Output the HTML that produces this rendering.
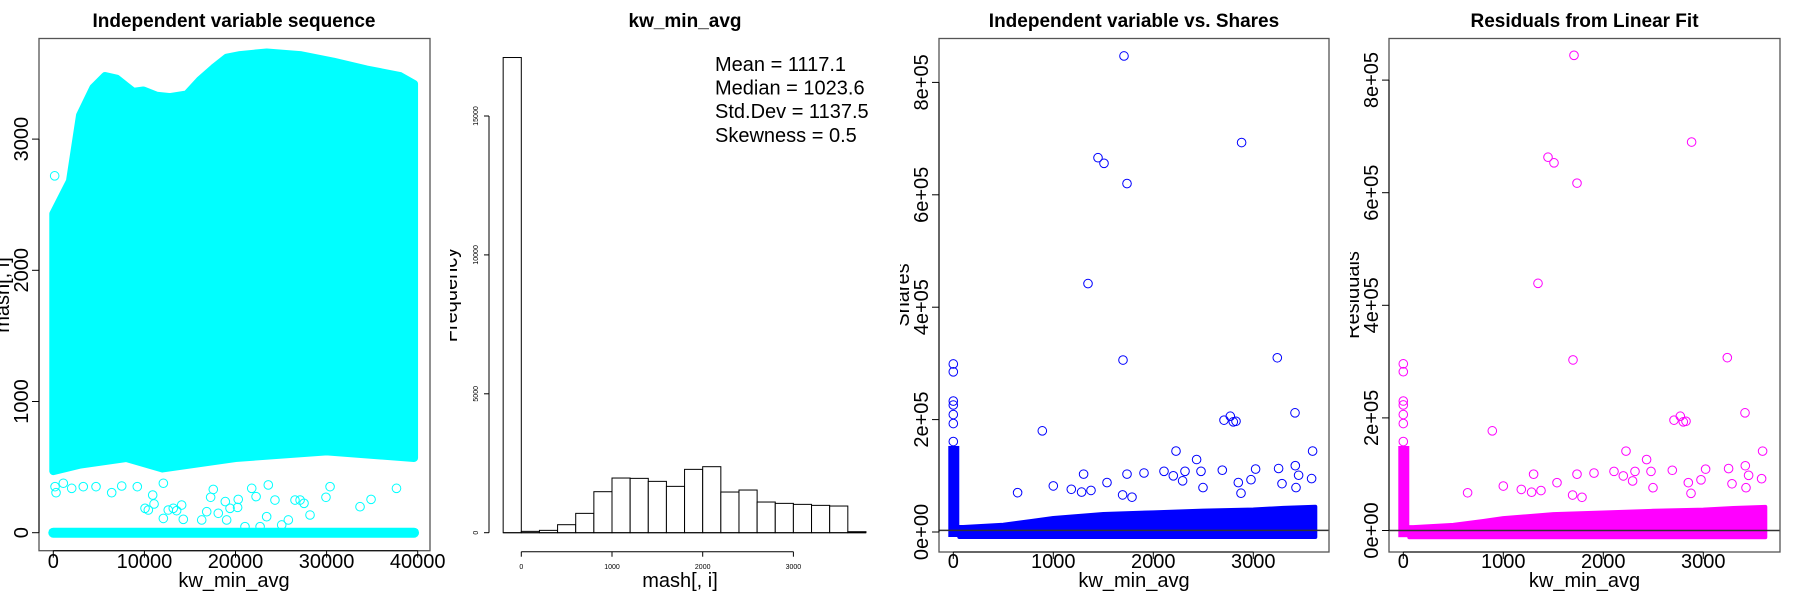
<!DOCTYPE html>
<html><head><meta charset="utf-8"><style>
html,body{margin:0;padding:0;background:#fff;}
svg{display:block;font-family:"Liberation Sans",Arial,sans-serif;}
</style></head><body>
<svg id="chart" width="1800" height="600" viewBox="0 0 1800 600" xmlns="http://www.w3.org/2000/svg">
<defs>
<clipPath id="c1"><rect x="0" y="0" width="450" height="600"/></clipPath>
<clipPath id="c2"><rect x="450" y="0" width="450" height="600"/></clipPath>
<clipPath id="c3"><rect x="900" y="0" width="450" height="600"/></clipPath>
<clipPath id="c4"><rect x="1350" y="0" width="450" height="600"/></clipPath>
</defs>
<g id="p1" clip-path="url(#c1)"></g>
<g id="p2" clip-path="url(#c2)"></g>
<g id="p3" clip-path="url(#c3)"></g>
<g id="p4" clip-path="url(#c4)"></g>
</svg>
<script>
// ---------- Panel 1 data (index vs value) ----------
const seqIdxUpper = [0,1830,2930,4390,5680,6960,8790,9890,11350,12820,14650,16110,17580,19040,20500,23430,27090,30750,34410,38070,39600];
const seqValUpper = [2400,2650,3150,3360,3450,3430,3330,3340,3300,3290,3310,3420,3510,3590,3610,3630,3610,3560,3500,3450,3390];
const seqIdxLower = [0,3000,8000,12000,20000,30000,39600];
const seqValLower = [500,550,600,520,600,650,600];
const seqSparseIdx = [300,190,1100,2020,3290,4690,6410,7510,9220,10070,10430,10910,11060,12080,12080,12620,13170,13540,14090,14270,16290,16840,17560,17270,18110,18880,19030,19400,20300,20230,21040,21780,22260,22700,23420,23600,24330,25070,25800,26530,27090,27520,28180,29930,30380,33670,34880,37670,150,2700];
const seqSparseVal = [305,351,377,338,351,351,305,356,351,186,173,287,219,377,109,173,186,168,211,102,97,160,330,270,148,237,97,186,254,193,46,338,275,46,122,364,249,59,97,249,249,224,135,270,351,198,254,338,2720,2600];
const seqZeroIdx = [0,39600];
const seqTicksY = [0,1000,2000,3000];
const seqTicksX = [0,10000,20000,30000,40000];

// ---------- Panel 2 data (histogram) ----------
const histBreaks = [-200,0,200,400,600,800,1000,1200,1400,1600,1800,2000,2200,2400,2600,2800,3000,3200,3400,3600,3800];
const histCounts = [17105,48,84,288,696,1476,1968,1956,1848,1668,2280,2376,1464,1536,1104,1056,1020,984,960,36];
const histTicksY = [0,5000,10000,15000];
const histTicksX = [0,1000,2000,3000];
const statLines = ["Mean = 1117.1","Median = 1023.6","Std.Dev = 1137.5","Skewness = 0.5"];

// ---------- Panel 3 data (kw_min_avg vs shares) ----------
const outX = [1707,2883,1447,1507,1737,1347,1697,3240,3417,890,2707,2770,2800,2827,2227,3593,2433,3253,3023,2690,2107,2317,2477,1737,1907,1303,2200,3420,3453,3583,2293,2977,1537,1000,1180,1283,1377,643,1693,1787,2497,3287,3427,2850,2877,0,0,0,0,0,0,0,0];
const outY = [847000,693000,666000,656000,620000,442000,306000,310000,212000,180000,199000,206000,196000,197000,144000,144000,129000,113000,112000,110000,108000,108000,108000,103000,105000,103000,100000,118000,101000,95000,91000,93000,88000,82000,76000,71000,74000,70000,66000,62000,79000,86000,79000,88000,69000,299000,285000,233000,226000,209000,193000,161000,140000];
const bandX = [60,100,300,500,800,1000,1500,2000,2500,3000,3300,3620];
const bandTop = [9000,9000,11000,13000,20000,25000,32000,35000,38000,40000,43000,45000];
const columnTop = [146000];
const sharesTicksY = [0,200000,400000,600000,800000];
const sharesTickLabels = ["0e+00","2e+05","4e+05","6e+05","8e+05"];
const sharesTicksX = [0,1000,2000,3000];
const fitted = [3000];

const NS = "http://www.w3.org/2000/svg";
function mk(parent, tag, attrs, text){
  const e = document.createElementNS(NS, tag);
  for (const k in attrs) e.setAttribute(k, attrs[k]);
  if (text !== undefined) e.textContent = text;
  parent.appendChild(e);
  return e;
}
const p1 = document.getElementById('p1'), p2 = document.getElementById('p2'),
      p3 = document.getElementById('p3'), p4 = document.getElementById('p4');

const x1 = v => 53.3 + v*0.00911, y1 = v => 532.7 - v*0.1312;
const x2 = v => 521.3 + v*0.0907, y2 = v => 532.7 - v*0.02778;
const x3 = v => 953.3 + v*0.1, y3 = v => 532 - v*0.000562;
const x4 = v => 1403.3 + v*0.1, y4 = v => 530.5 - v*0.000563;

function title(g, cx, txt){
  const t = mk(g,'text',{x:cx,y:27,'text-anchor':'middle','font-size':19,'font-weight':'bold',fill:'#000'},txt);
  
  
}
function ylab(g, x, txt){
  const t = mk(g,'text',{x:0,y:0,transform:`translate(${x},295) rotate(-90)`,'text-anchor':'middle','font-size':20,fill:'#000'},txt);
  
  
}
function xlab(g, cx, txt){
  const t = mk(g,'text',{x:cx,y:587,'text-anchor':'middle','font-size':20,fill:'#000'},txt);
  
  
}
function box(g, x0, x1_, y0, y1_){
  const r = mk(g,'rect',{x:x0,y:y0,width:x1_-x0,height:y1_-y0,fill:'none',stroke:'#555','stroke-width':1.3});
  
  
}
function yticks(g, vals, labels, sy, left, labX){
  vals.forEach((v,i)=>{
    const l = mk(g,'line',{x1:left,x2:left-7,y1:sy(v),y2:sy(v),stroke:'#000','stroke-width':1});
    
    
    const t = mk(g,'text',{x:0,y:0,transform:`translate(${labX},${sy(v)}) rotate(-90)`,'text-anchor':'middle','font-size':20,fill:'#000'},labels[i]);
    
    
  });
  const a = mk(g,'line',{x1:left,x2:left,y1:sy(vals[0]),y2:sy(vals[vals.length-1]),stroke:'#000','stroke-width':1});
  
  
}
function xticks(g, vals, sx, bottom){
  vals.forEach(v=>{
    const l = mk(g,'line',{x1:sx(v),x2:sx(v),y1:bottom,y2:bottom+7,stroke:'#000','stroke-width':1});
    
    
    const t = mk(g,'text',{x:sx(v),y:568,'text-anchor':'middle','font-size':20,fill:'#000'},String(v));
    
    
  });
  const a = mk(g,'line',{x1:sx(vals[0]),x2:sx(vals[vals.length-1]),y1:bottom,y2:bottom,stroke:'#000','stroke-width':1});
  
  
}
function circ(g, cx, cy, col, name){
  const c = mk(g,'circle',{cx:cx,cy:cy,r:4.3,fill:'none',stroke:col,'stroke-width':1});
  
  
}

// ===== Panel 1 =====
title(p1, 234, 'Independent variable sequence');
{
  let pts = [];
  seqIdxUpper.forEach((v,i)=>pts.push(x1(v)+','+(y1(seqValUpper[i])-4)));
  for (let i=seqIdxLower.length-1;i>=0;i--) pts.push(x1(seqIdxLower[i])+','+(y1(seqValLower[i])+4));
  const poly = mk(p1,'polygon',{points:pts.join(' '),fill:'#00FFFF',stroke:'#00FFFF','stroke-width':8,'stroke-linejoin':'round'});
  
  
  seqSparseIdx.forEach((v,i)=>circ(p1, x1(v), y1(seqSparseVal[i]), '#00FFFF', 'sequence-point'));
  const z = mk(p1,'line',{x1:x1(seqZeroIdx[0]),x2:x1(seqZeroIdx[1]),y1:y1(0),y2:y1(0),stroke:'#00FFFF','stroke-width':10,'stroke-linecap':'round'});
  
  
}
box(p1, 39, 430, 38.5, 550.7);
yticks(p1, seqTicksY, seqTicksY.map(String), y1, 39, 28);
xticks(p1, seqTicksX, x1, 550.7);
xlab(p1, 234, 'kw_min_avg');
ylab(p1, 9, 'mash[, i]');

// ===== Panel 2 =====
title(p2, 685, 'kw_min_avg');
histCounts.forEach((c,i)=>{
  const xa = x2(histBreaks[i]), xb = x2(histBreaks[i+1]);
  const r = mk(p2,'rect',{x:xa,y:y2(c),width:xb-xa,height:y2(0)-y2(c),fill:'#fff',stroke:'#000','stroke-width':1});
  
  
});
{
  const L = 489;
  histTicksY.forEach(v=>{
    const l = mk(p2,'line',{x1:L,x2:L-5,y1:y2(v),y2:y2(v),stroke:'#000','stroke-width':1});
    
    
    const t = mk(p2,'text',{x:0,y:0,transform:`translate(478,${y2(v)}) rotate(-90)`,'text-anchor':'middle','font-size':7,fill:'#000'},String(v));
    
    
  });
  const a = mk(p2,'line',{x1:L,x2:L,y1:y2(0),y2:y2(15000),stroke:'#000','stroke-width':1});
  
  
  const B = 551.7;
  histTicksX.forEach(v=>{
    const l = mk(p2,'line',{x1:x2(v),x2:x2(v),y1:B,y2:B+5,stroke:'#000','stroke-width':1});
    
    
    const t = mk(p2,'text',{x:x2(v),y:569,'text-anchor':'middle','font-size':7,fill:'#000'},String(v));
    
    
  });
  const b = mk(p2,'line',{x1:x2(0),x2:x2(3000),y1:B,y2:B,stroke:'#000','stroke-width':1});
  
  
  const base = mk(p2,'line',{x1:x2(-200),x2:x2(3800),y1:y2(0),y2:y2(0),stroke:'#000','stroke-width':1});
  
  
  statLines.forEach((s,i)=>{
    const t = mk(p2,'text',{x:715,y:71+i*23.6,'font-size':20,fill:'#000'},s);
    
    
  });
}
xlab(p2, 680, 'mash[, i]');
ylab(p2, 457, 'Frequency');

// ===== Panels 3 & 4 =====
function scatterPanel(g, sx, sy, col, offset, left, right, ttl, yl, ylx, labX, lineVal){
  title(g, (left+right)/2, ttl);
  // dense band
  let pts = [];
  bandX.forEach((v,i)=>pts.push(sx(v)+','+sy(bandTop[i]-offset)));
  pts.push(sx(bandX[bandX.length-1])+','+(sy(-offset)+5));
  pts.push(sx(bandX[0])+','+(sy(-offset)+5));
  const band = mk(g,'polygon',{points:pts.join(' '),fill:col,stroke:col,'stroke-width':4,'stroke-linejoin':'round'});
  
  
  const colR = mk(g,'rect',{x:sx(0)-5,y:sy(columnTop[0]-offset)-4,width:11,height:sy(-offset)-sy(columnTop[0]-offset)+9,fill:col});
  
  
  outX.forEach((v,i)=>circ(g, sx(v), sy(outY[i]-offset), col, 'scatter-point'));
  const ln = mk(g,'line',{x1:left,x2:right,y1:sy(lineVal),y2:sy(lineVal),stroke:'#333','stroke-width':1.5});
  
  
  box(g, left, right, 38.5, 552);
  yticks(g, sharesTicksY, sharesTickLabels, sy, left, labX);
  xticks(g, sharesTicksX, sx, 552);
  xlab(g, (left+right)/2, 'kw_min_avg');
  ylab(g, ylx, yl);
}
scatterPanel(p3, x3, y3, '#0000FF', 0, 939, 1329, 'Independent variable vs. Shares', 'Shares', 909, 928, fitted[0]);
scatterPanel(p4, x4, y4, '#FF00FF', fitted[0], 1389, 1780, 'Residuals from Linear Fit', 'Residuals', 1359, 1378, 0);
</script>
</body></html>
